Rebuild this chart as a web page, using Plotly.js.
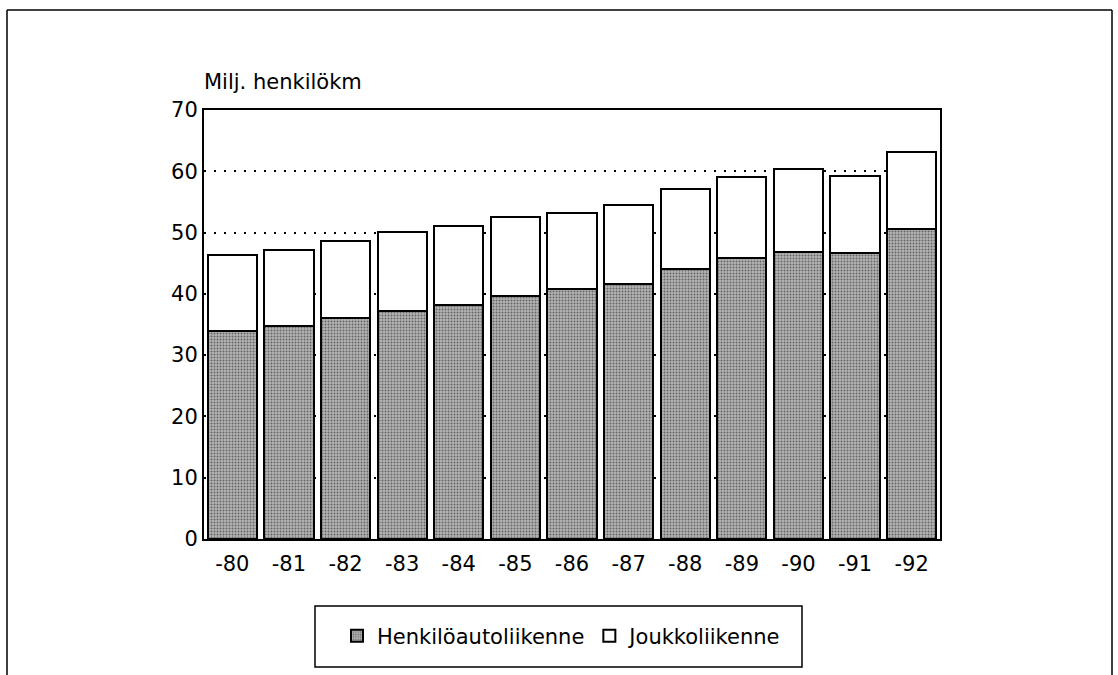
<!DOCTYPE html>
<html>
<head>
<meta charset="utf-8">
<script src="https://cdn.plot.ly/plotly-3.0.1.min.js"></script>
<style>
html,body{margin:0;padding:0;background:#fff;}
#chart{width:1118px;height:675px;}
</style>
</head>
<body>
<div id="chart"></div>
<script>
// Data
const years = ["-80","-81","-82","-83","-84","-85","-86","-87","-88","-89","-90","-91","-92"];
const henkiloauto = [34.0, 34.7, 36.0, 37.2, 38.2, 39.6, 40.8, 41.6, 44.1, 45.8, 46.8, 46.6, 50.6];
const joukko = [12.3, 12.5, 12.6, 12.9, 12.9, 12.9, 12.4, 12.9, 13.0, 13.2, 13.5, 12.7, 12.5];
const seriesNames = ["Henkilöautoliikenne", "Joukkoliikenne"];
const yTitle = "Milj. henkilökm";

const FONT = "DejaVu Sans, Verdana, sans-serif";
const FS = 21;

const traces = [
  {
    type: "bar", x: years, y: henkiloauto, name: seriesNames[0],
    marker: {color: "#a8a8a8", line: {color: "#000", width: 2},
             pattern: {shape: ".", fgcolor: "#666", bgcolor: "#b4b4b4", size: 3, solidity: 0.35, fillmode: "replace"}}
  },
  {
    type: "bar", x: years, y: joukko, name: seriesNames[1],
    marker: {color: "#ffffff", line: {color: "#000", width: 2}}
  }
];

const mL = 204, mR = 1118 - 940, mT = 110, mB = 675 - 539;
const pw = 1118 - mL - mR, ph = 675 - mT - mB;
const px = v => (v - mL) / pw;
const py = v => (675 - mB - v) / ph;

const layout = {
  width: 1118, height: 675,
  margin: {l: mL, r: mR, t: mT, b: mB, pad: 0},
  paper_bgcolor: "#fff", plot_bgcolor: "#fff",
  barmode: "stack", bargap: 0.13,
  font: {family: FONT, size: FS, color: "#000"},
  showlegend: true,
  legend: {
    orientation: "h", x: px(562), xanchor: "center", y: py(636), yanchor: "middle",
    borderwidth: 0, bgcolor: "rgba(0,0,0,0)",
    font: {family: FONT, size: FS, color: "#000"},
    traceorder: "normal", itemwidth: 30
  },
  xaxis: {
    type: "category", showline: true, mirror: true, linecolor: "#000", linewidth: 2,
    ticks: "", showgrid: false, zeroline: false,
    tickfont: {family: FONT, size: FS, color: "#000"},
    ticklabelstandoff: 5
  },
  yaxis: {
    range: [0, 70], dtick: 10, showline: true, mirror: true, linecolor: "#000", linewidth: 2,
    ticks: "", showgrid: true, gridcolor: "#000", gridwidth: 2, griddash: "2px,8px",
    zeroline: false,
    tickfont: {family: FONT, size: FS, color: "#000"},
    ticklabelstandoff: 0
  },
  annotations: [
    {text: yTitle, xref: "paper", yref: "paper", x: px(202), y: py(82),
     xanchor: "left", yanchor: "middle", showarrow: false,
     font: {family: FONT, size: FS, color: "#000"}}
  ],
  shapes: [
    // outer frame
    {type: "line", xref: "paper", yref: "paper", x0: px(7), x1: px(1112), y0: py(10), y1: py(10), line: {color: "#000", width: 1.5}},
    {type: "line", xref: "paper", yref: "paper", x0: px(7), x1: px(7), y0: py(10), y1: py(680), line: {color: "#000", width: 1.5}},
    {type: "line", xref: "paper", yref: "paper", x0: px(1112), x1: px(1112), y0: py(10), y1: py(680), line: {color: "#000", width: 1.5}},
    // legend box
    {type: "rect", xref: "paper", yref: "paper", x0: px(315), x1: px(802), y0: py(606), y1: py(667), line: {color: "#000", width: 1.5}, fillcolor: "rgba(0,0,0,0)", layer: "above"}
  ]
};

Plotly.newPlot("chart", traces, layout, {displayModeBar: false, staticPlot: true});
</script>
</body>
</html>
